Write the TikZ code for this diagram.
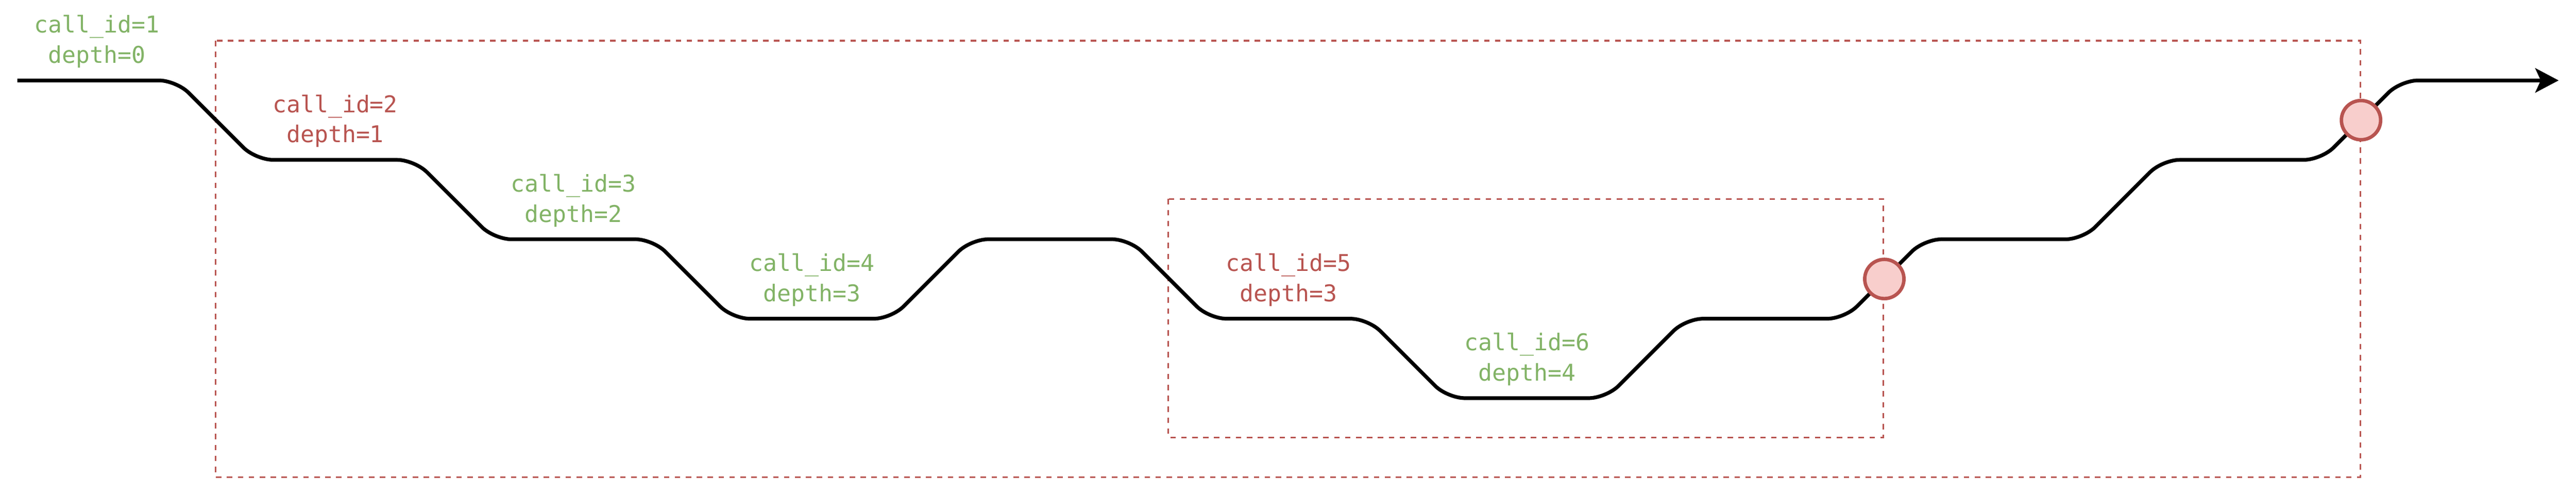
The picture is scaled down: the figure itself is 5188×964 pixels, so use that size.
\documentclass[tikz,border=0pt]{standalone}
\usepackage{fontspec}
\setmonofont{DejaVu Sans Mono}
\usepackage{tikz}
\usetikzlibrary{arrows.meta}

\definecolor{callgreen}{HTML}{82B366}
\definecolor{callred}{HTML}{B85450}
\definecolor{retfill}{HTML}{F8CECC}

\begin{document}
\begin{tikzpicture}[x=0.2pt,y=0.2pt,yscale=-1,
  callpath/.style={line width=1.5pt,rounded corners=7pt},
  scopebox/.style={draw=callred,line width=0.66pt,dash pattern=on 2.2pt off 2.2pt},
  retdot/.style={circle,draw=callred,fill=retfill,line width=1.4pt,minimum size=15.8pt,inner sep=0pt},
  calllabel/.style={anchor=south,inner sep=0pt,align=center,font=\ttfamily\fontsize{9.3}{12.2}\selectfont}]
%uncomment if require: \path (0,964); %set diagram left start at 0, and has height of 964
\useasboundingbox (0,0) rectangle (5188,964);

%Shape: Rectangle [id:outer] 
\draw [scopebox] (434,82) rectangle (4754,961);
%Shape: Rectangle [id:inner] 
\draw [scopebox] (2353,401) rectangle (3793,881);

%Corners of the call path
\coordinate (p0) at (35,162);
\coordinate (p1) at (355,162);
\coordinate (p2) at (515,322);
\coordinate (p3) at (835,322);
\coordinate (p4) at (995,482);
\coordinate (p5) at (1315,482);
\coordinate (p6) at (1475,642);
\coordinate (p7) at (1795,642);
\coordinate (p8) at (1955,482);
\coordinate (p9) at (2275,482);
\coordinate (p10) at (2435,642);
\coordinate (p11) at (2755,642);
\coordinate (p12) at (2915,802);
\coordinate (p13) at (3235,802);
\coordinate (p14) at (3395,642);
\coordinate (p15) at (3715,642);
\coordinate (p16) at (3875,482);
\coordinate (p17) at (4195,482);
\coordinate (p18) at (4355,322);
\coordinate (p19) at (4675,322);
\coordinate (p20) at (4835,162);
\coordinate (p21) at (5153,162);

%Straight Lines [id:callpath] 
\draw [callpath,-{Stealth[length=9.4pt,width=9.8pt,inset=2.2pt]}] (p0) -- (p1) -- (p2) -- (p3) -- (p4) -- (p5) -- (p6) -- (p7) -- (p8) -- (p9) -- (p10) -- (p11) -- (p12) -- (p13) -- (p14) -- (p15) -- (p16) -- (p17) -- (p18) -- (p19) -- (p20) -- (p21);

%Shape: Circle [id:ret5] 
\node [retdot] (ret5) at (3795,562) {};
%Shape: Circle [id:ret2] 
\node [retdot] (ret2) at (4755,242) {};

% Text Node
\node [calllabel,text=callgreen] (call1) at (195,138) {call\_id=1\\depth=0};
% Text Node
\node [calllabel,text=callred] (call2) at (675,298) {call\_id=2\\depth=1};
% Text Node
\node [calllabel,text=callgreen] (call3) at (1155,458) {call\_id=3\\depth=2};
% Text Node
\node [calllabel,text=callgreen] (call4) at (1635,618) {call\_id=4\\depth=3};
% Text Node
\node [calllabel,text=callred] (call5) at (2595,618) {call\_id=5\\depth=3};
% Text Node
\node [calllabel,text=callgreen] (call6) at (3075,778) {call\_id=6\\depth=4};

\end{tikzpicture}
\end{document}
